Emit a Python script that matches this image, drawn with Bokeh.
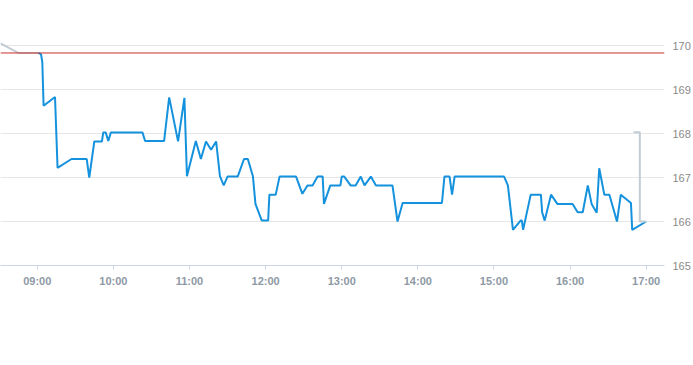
import pandas as pd
from bokeh.plotting import figure
from bokeh.models import Range1d, FixedTicker, DatetimeTickFormatter, Span
from bokeh.embed import file_html
from bokeh.resources import INLINE

DAY = "2024-01-02 "

blue_times = ["09:01", "09:03", "09:04", "09:05", "09:14", "09:16", "09:27", "09:39", "09:41", "09:45",
              "09:51", "09:52", "09:54", "09:56", "09:58", "10:23", "10:25", "10:40", "10:44", "10:51",
              "10:56", "10:58", "11:05", "11:09", "11:13", "11:17", "11:21", "11:24", "11:27", "11:30",
              "11:38", "11:43", "11:46", "11:50", "11:52", "11:57", "12:02", "12:03", "12:08", "12:11",
              "12:24", "12:29", "12:33", "12:37", "12:41", "12:45", "12:46", "12:51", "12:59", "13:00",
              "13:02", "13:07", "13:11", "13:15", "13:18", "13:23", "13:27", "13:40", "13:44", "13:48",
              "14:19", "14:21", "14:25", "14:27", "14:29", "15:08", "15:11", "15:15", "15:21", "15:22",
              "15:23", "15:29", "15:37", "15:38", "15:40", "15:45", "15:50", "16:02", "16:06", "16:10",
              "16:14", "16:17", "16:21", "16:23", "16:27", "16:31", "16:37", "16:40", "16:48", "16:49",
              "17:00"]
blue_values = [169.83, 169.80, 169.62, 168.63, 168.83, 167.22, 167.42, 167.42, 167.00, 167.82,
               167.82, 168.02, 168.02, 167.83, 168.02, 168.02, 167.83, 167.83, 168.82, 167.82,
               168.81, 167.03, 167.83, 167.42, 167.82, 167.63, 167.82, 167.03, 166.82, 167.02,
               167.02, 167.42, 167.42, 167.03, 166.40, 166.02, 166.02, 166.61, 166.61, 167.02,
               167.02, 166.63, 166.82, 166.82, 167.02, 167.02, 166.40, 166.82, 166.82, 167.02,
               167.02, 166.82, 166.82, 167.02, 166.82, 167.02, 166.82, 166.82, 166.00, 166.42,
               166.42, 167.02, 167.02, 166.61, 167.02, 167.02, 166.82, 165.81, 166.02, 166.02,
               165.81, 166.61, 166.61, 166.21, 166.02, 166.61, 166.40, 166.40, 166.21, 166.21,
               166.82, 166.40, 166.20, 167.21, 166.61, 166.61, 166.00, 166.61, 166.42, 165.81,
               166.00]

pre_times = ["08:31", "08:45", "09:01"]
pre_values = [170.05, 169.83, 169.83]

post_times = ["16:50", "16:55", "16:55", "17:00"]
post_values = [168.03, 168.03, 166.00, 166.00]

prev_close = 169.83

x_tick_labels = ["09:00", "10:00", "11:00", "12:00", "13:00", "14:00", "15:00", "16:00", "17:00"]
y_ticks = [165, 166, 167, 168, 169, 170]


def to_ms(times):
    return [pd.Timestamp(DAY + s).value / 1e6 for s in times]


nine = pd.Timestamp(DAY + "09:00").value / 1e6
minute = 60000.0

p = figure(width=693, height=365, x_axis_type="datetime",
           x_range=Range1d(nine - 28.97 * minute, nine + 494.45 * minute),
           y_range=Range1d(165, 170 + 45 / 44),
           y_axis_location="right",
           output_backend="svg", toolbar_location=None,
           min_border_left=0, min_border_top=0, min_border_bottom=100, min_border_right=0)

p.outline_line_color = None
p.background_fill_color = "white"
p.xgrid.visible = False
p.ygrid.grid_line_color = "#e6e6e6"
p.ygrid.grid_line_width = 1

xa = p.xaxis[0]
xa.ticker = FixedTicker(ticks=to_ms(x_tick_labels))
xa.formatter = DatetimeTickFormatter(hours="%H:%M", hourmin="%H:%M", minutes="%H:%M", days="%H:%M")
xa.axis_line_color = "#ccd6eb"
xa.major_tick_line_color = "#ccd6eb"
xa.major_tick_out = 4
xa.major_tick_in = 0
xa.minor_tick_line_color = None
xa.major_label_standoff = 5
xa.major_label_text_font = "Liberation Sans"
xa.major_label_text_font_size = "11px"
xa.major_label_text_font_style = "bold"
xa.major_label_text_color = "#8e99a5"

ya = p.yaxis[0]
ya.ticker = FixedTicker(ticks=y_ticks)
ya.axis_line_color = None
ya.major_tick_line_color = None
ya.major_tick_out = 0
ya.major_tick_in = 0
ya.minor_tick_line_color = None
ya.major_label_standoff = 8
ya.major_label_text_font = "Liberation Sans"
ya.major_label_text_font_size = "11px"
ya.major_label_text_color = "#8a8a8a"

p.add_layout(Span(location=prev_close, dimension="width", line_color="#c9302c", line_width=1))

p.line(to_ms(pre_times), pre_values, line_color="#c2ccd5", line_width=2)
p.line(to_ms(blue_times), blue_values, line_color="#1592dd", line_width=2)
p.line(to_ms(post_times), post_values, line_color="#c2ccd5", line_width=2)

open("out.html", "w").write(file_html(p, INLINE))
